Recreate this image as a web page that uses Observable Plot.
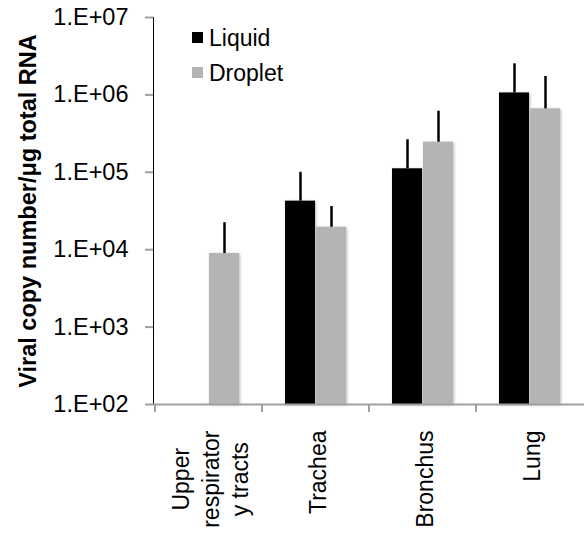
<!DOCTYPE html>
<html><head><meta charset="utf-8">
<script src="https://cdn.jsdelivr.net/npm/d3@7"></script>
<script src="https://cdn.jsdelivr.net/npm/@observablehq/plot@0.6"></script>
<style>
body{margin:0;background:#fff;}
#wrap{position:relative;width:584px;height:533px;font-family:"Liberation Sans",Arial,sans-serif;}
#wrap svg{display:block;}
[aria-label^="y-axis"]{color:#a0a0a0;}
[aria-label^="y-axis"] text{fill:#000;font-size:23.5px;}
[aria-label^="y-axis"] line,[aria-label^="y-axis"] path{stroke-width:2px;}
g[aria-label="bar"]{filter:drop-shadow(1.5px 1px 1.5px rgba(0,0,0,0.28));}
.sw{position:absolute;width:11px;height:11px;}
.lt{position:absolute;font-size:23px;line-height:23px;color:#000;white-space:nowrap;}
</style></head><body><div id="wrap"></div>
<script>
const categories = ["Upper\nrespirator\ny tracts", "Trachea", "Bronchus", "Lung"];
const series = ["Liquid", "Droplet"];
const liquidMean  = [null, 42400, 111000, 1060000];
const liquidUpper = [null, 100000, 263000, 2520000];
const dropletMean  = [8930, 19500, 245000, 661000];
const dropletUpper = [22300, 36100, 615000, 1730000];
const yTicks = [1e2, 1e3, 1e4, 1e5, 1e6, 1e7];
const yTickLabels = ["1.E+02", "1.E+03", "1.E+04", "1.E+05", "1.E+06", "1.E+07"];
const colors = ["#000000", "#b4b4b4"];
const yTitle = "Viral copy number/\u03bcg total RNA";

const means = [liquidMean, dropletMean];
const uppers = [liquidUpper, dropletUpper];
const rows = [];
series.forEach((s, si) => categories.forEach((c, ci) => {
  if (means[si][ci] != null) rows.push({category: c, series: s, value: means[si][ci], upper: uppers[si][ci]});
}));
const liq = rows.filter(d => d.series === "Liquid");
const dro = rows.filter(d => d.series === "Droplet");

const chart = Plot.plot({
  width: 584, height: 533,
  marginLeft: 153, marginRight: 0, marginTop: 17, marginBottom: 129,
  style: {fontFamily: "'Liberation Sans', Arial, sans-serif", fontSize: "23px", background: "white", color: "black", overflow: "visible"},
  x: {domain: categories, padding: 0, axis: null},
  y: {type: "log", domain: [yTicks[0], yTicks[yTicks.length - 1]], ticks: yTicks,
      tickFormat: d => yTickLabels[yTicks.indexOf(d)], tickSize: 8, tickPadding: 17, line: true, label: null},
  marks: [
    Plot.barY(liq, {x: "category", y1: yTicks[0], y2: "value", fill: colors[0], insetLeft: 23, insetRight: 54}),
    Plot.barY(dro, {x: "category", y1: yTicks[0], y2: "value", fill: colors[1], insetLeft: 54, insetRight: 23}),
    Plot.ruleX(liq, {x: "category", y1: "value", y2: "upper", stroke: "#000", strokeWidth: 2.5, dx: -15.5}),
    Plot.ruleX(dro, {x: "category", y1: "value", y2: "upper", stroke: "#000", strokeWidth: 2.5, dx: 15.5}),
    Plot.ruleY([yTicks[0]], {stroke: "#a0a0a0", strokeWidth: 2}),
    Plot.text(categories, {x: d => d, frameAnchor: "bottom", dy: 26, rotate: -90, textAnchor: "end", lineAnchor: "middle", lineHeight: 1.3}),
    Plot.text([yTitle], {frameAnchor: "left", dx: -125, rotate: -90, textAnchor: "middle", lineAnchor: "middle", fontWeight: "bold", fontSize: 23.5})
  ]
});
const wrap = document.getElementById("wrap");
wrap.appendChild(chart);

// group boundary ticks on the x axis
const xs = chart.scale("x");
const ys = chart.scale("y");
const y0 = ys.apply(yTicks[0]);
d3.select(chart).append("g").selectAll("line").data(categories).join("line")
  .attr("x1", d => xs.apply(d)).attr("x2", d => xs.apply(d))
  .attr("y1", y0).attr("y2", y0 + 8)
  .attr("stroke", "#a0a0a0").attr("stroke-width", 2);

// center multi-line category labels like the original
d3.select(chart).selectAll("text").each(function() {
  const tsp = this.querySelectorAll("tspan");
  if (tsp.length > 1) {
    const w = this.getBBox().width;
    this.setAttribute("text-anchor", "middle");
    tsp.forEach(t => t.setAttribute("x", -w / 2));
  }
});

// legend
const legTops = [27, 61.5];
series.forEach((s, i) => {
  const sw = document.createElement("div");
  sw.className = "sw";
  sw.style.left = "192px"; sw.style.top = (legTops[i] + 5) + "px";
  sw.style.background = colors[i];
  wrap.appendChild(sw);
  const t = document.createElement("div");
  t.className = "lt";
  t.style.left = "209px"; t.style.top = legTops[i] + "px";
  t.textContent = s;
  wrap.appendChild(t);
});
</script>
</body></html>
